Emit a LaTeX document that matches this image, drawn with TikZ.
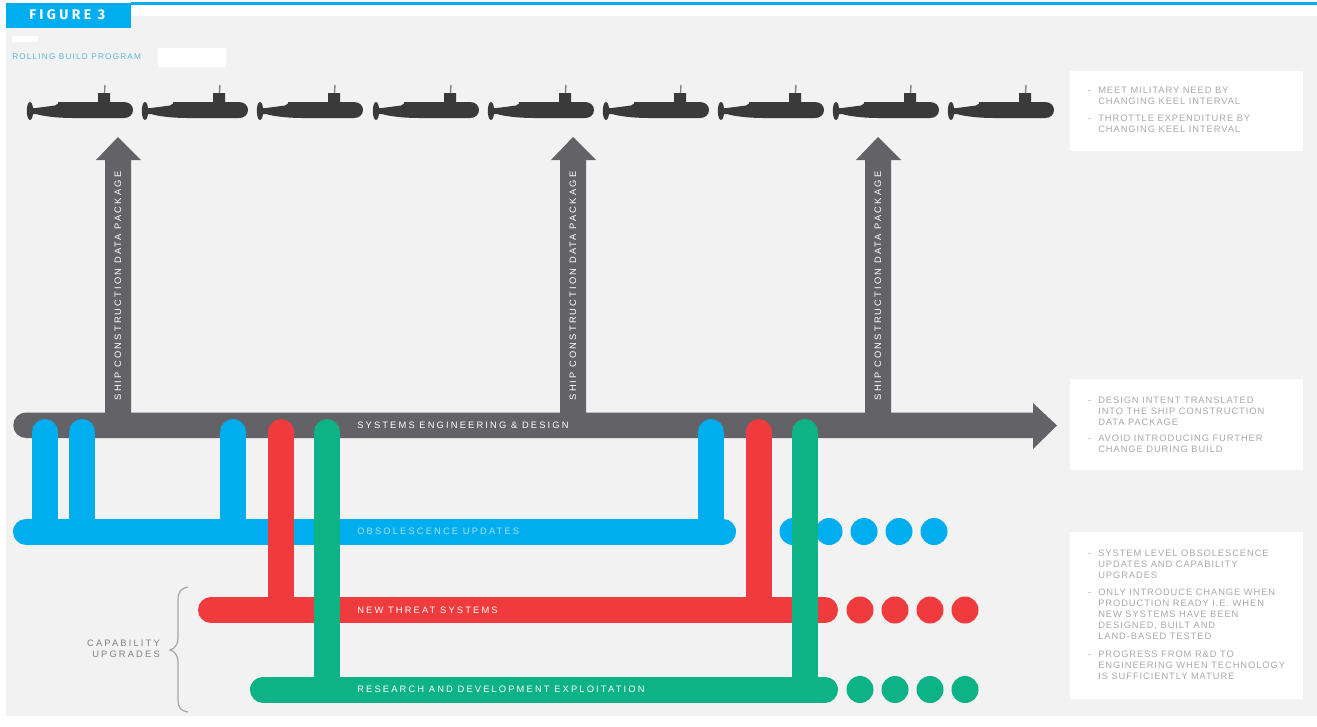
\documentclass[tikz,border=0pt]{standalone}
\usepackage{fontspec}
\setmainfont{Liberation Sans}
\newfontfamily\barfont[LetterSpace=23]{Liberation Sans}
\newfontfamily\notefont[LetterSpace=10]{Liberation Sans}
\newfontfamily\rollfont[LetterSpace=14]{Liberation Sans}
\newfontfamily\figfont[LetterSpace=24]{Fira Sans}
\definecolor{bggray}{HTML}{F2F2F2}
\definecolor{cyanbar}{HTML}{00AEEF}
\definecolor{redbar}{HTML}{EF3B3E}
\definecolor{greenbar}{HTML}{0DB286}
\definecolor{darkbar}{HTML}{636266}
\definecolor{subdark}{HTML}{3A3A3A}
\definecolor{notegray}{HTML}{A9A9A9}
\definecolor{rollcyan}{HTML}{5FB8D8}
\tikzset{
  bar/.style={line width=19.5pt,line cap=round},
  dotnode/.style={circle,minimum size=20.25pt,inner sep=0pt},
  barlabel/.style={anchor=west,inner sep=0pt,font=\barfont\fontsize{7}{8}\selectfont},
  vlabel/.style={rotate=90,inner sep=0pt,text=white,font=\barfont\fontsize{7}{8}\selectfont},
  panel/.style={fill=white,draw=none},
  note/.style={anchor=north west,inner sep=0pt,align=left,text=notegray,font=\notefont\fontsize{7}{8.25}\selectfont},
}
\newcommand{\subshape}[1]{%
  \begin{scope}[shift={(#1,0)}]
    \fill[subdark] (3,111) ellipse[x radius=3.2,y radius=9];
    \fill[subdark] (3,108) -- (9,108) -- (28,105.5) -- (31,103.5) -- (31,102) -- (71,102) -- (71,93) -- (83,93) -- (83,102)
      -- (97,102) .. controls (103,102) and (106,106) .. (106,110)
      .. controls (106,115) and (102,118) .. (97,118)
      -- (45,118) .. controls (30,118) and (15,116) .. (9,114) -- (3,114) -- cycle;
    \draw[gray,line width=1pt] (77.5,93) -- (78,85);
  \end{scope}}
\begin{document}
\begin{tikzpicture}[x=0.75pt,y=-0.75pt]
\useasboundingbox (0,0) rectangle (1317,726);
\fill[white] (0,0) rectangle (1317,726);
\fill[bggray] (6,16) rectangle (1317,716);
\fill[cyanbar] (131,2) rectangle (1317,4.5);
\fill[cyanbar] (6,3) rectangle (131,28);
\node (fig) [anchor=west,inner sep=0pt,text=white,font=\figfont\bfseries\fontsize{10.5}{12}\selectfont] at (29,15) {FIGURE 3};
\fill[white] (12,36) rectangle (38,42);
\fill[white] (158,48) rectangle (226,67);
\node (roll) [anchor=west,inner sep=0pt,text=rollcyan,font=\rollfont\fontsize{6.2}{7}\selectfont] at (12,57) {ROLLING BUILD PROGRAM};

\foreach \sx in {27,142,257,373,488,603,718,833,948} {\subshape{\sx}}

% coordinates
\coordinate (sysL) at (26,425);
\coordinate (obsL) at (26,531.5);
\coordinate (obsR) at (723,531.5);
\coordinate (redL) at (211,610);
\coordinate (redR) at (825,610);
\coordinate (grnL) at (263,689.5);
\coordinate (grnR) at (825,689.5);
\foreach \n/\x in {b1/45,b2/82,b3/233,b4/711,r1/281,r2/759,g1/327,g2/805}{\coordinate (\n) at (\x,432);}

% grey main arrow and the three up arrows
\fill[darkbar] (26,412.5) -- (105,412.5) -- (105,160) -- (96,160) -- (118,137) -- (141,160) -- (131,160) -- (131,412.5)
  -- (560,412.5) -- (560,160) -- (551,160) -- (573,137) -- (596,160) -- (586,160) -- (586,412.5)
  -- (865,412.5) -- (865,160) -- (856,160) -- (878,137) -- (901,160) -- (891,160) -- (891,412.5)
  -- (1033,412.5) -- (1033,403) -- (1057,425.5) -- (1033,449) -- (1033,438) -- (26,438)
  arc[start angle=90,end angle=270,radius=12.75] -- cycle;

\node (v1) [vlabel] at (118,286) {SHIP CONSTRUCTION DATA PACKAGE};
\node (v2) [vlabel] at (573,286) {SHIP CONSTRUCTION DATA PACKAGE};
\node (v3) [vlabel] at (878,286) {SHIP CONSTRUCTION DATA PACKAGE};
\node (sys) [barlabel,text=white] at (357,425) {SYSTEMS ENGINEERING \& DESIGN};

% blue
\draw[bar,cyanbar] (obsL) -- (obsR);
\foreach \n in {b1,b2,b3,b4} {\draw[bar,cyanbar] (\n) -- (\n |- obsL);}
\foreach \i/\x in {1/793,2/829,3/864,4/899,5/934} {\node (bd\i) [dotnode,fill=cyanbar] at (\x,531.5) {};}
\node (obs) [barlabel,text=cyan!35!white] at (357,531.5) {OBSOLESCENCE UPDATES};

% red
\draw[bar,redbar] (redL) -- (redR);
\foreach \n in {r1,r2} {\draw[bar,redbar] (\n) -- (\n |- redL);}
\foreach \i/\x in {1/860,2/895,3/930,4/965} {\node (rd\i) [dotnode,fill=redbar] at (\x,610) {};}
\node (red) [barlabel,text=white] at (357,610) {NEW THREAT SYSTEMS};

% green
\draw[bar,greenbar] (grnL) -- (grnR);
\foreach \n in {g1,g2} {\draw[bar,greenbar] (\n) -- (\n |- grnL);}
\foreach \i/\x in {1/860,2/895,3/930,4/965} {\node (gd\i) [dotnode,fill=greenbar] at (\x,689.5) {};}
\node (grn) [barlabel,text=white] at (357,689.5) {RESEARCH AND DEVELOPMENT EXPLOITATION};

% brace
\draw[gray!70,line width=0.9pt] (188,587) .. controls (181,588) and (178,592) .. (178,600)
  -- (178,638) .. controls (178,644) and (175,649) .. (170,650)
  .. controls (175,651) and (178,656) .. (178,662)
  -- (178,700) .. controls (178,708) and (181,711) .. (188,712);
\node (cap) [anchor=east,inner sep=0pt,align=right,text=gray,font=\barfont\fontsize{7}{8.25}\selectfont] at (160,648.5) {CAPABILITY\\UPGRADES};

% panels
\fill[panel] (1070,71) rectangle (1303,151);
\fill[panel] (1070,379) rectangle (1303,470);
\fill[panel] (1070,532) rectangle (1303,699);
\node (n1a) [note] at (1098,87) {\llap{-\ \ }MEET MILITARY NEED BY\\CHANGING KEEL INTERVAL};
\node (n1b) [note] at (1098,115) {\llap{-\ \ }THROTTLE EXPENDITURE BY\\CHANGING KEEL INTERVAL};
\node (n2a) [note] at (1098,397) {\llap{-\ \ }DESIGN INTENT TRANSLATED\\INTO THE SHIP CONSTRUCTION\\DATA PACKAGE};
\node (n2b) [note] at (1098,435) {\llap{-\ \ }AVOID INTRODUCING FURTHER\\CHANGE DURING BUILD};
\node (n3a) [note] at (1098,550) {\llap{-\ \ }SYSTEM LEVEL OBSOLESCENCE\\UPDATES AND CAPABILITY\\UPGRADES};
\node (n3b) [note] at (1098,589) {\llap{-\ \ }ONLY INTRODUCE CHANGE WHEN\\PRODUCTION READY I.E. WHEN\\NEW SYSTEMS HAVE BEEN\\DESIGNED, BUILT AND\\LAND-BASED TESTED};
\node (n3c) [note] at (1098,651) {\llap{-\ \ }PROGRESS FROM R\&D TO\\ENGINEERING WHEN TECHNOLOGY\\IS SUFFICIENTLY MATURE};
\end{tikzpicture}
\end{document}
